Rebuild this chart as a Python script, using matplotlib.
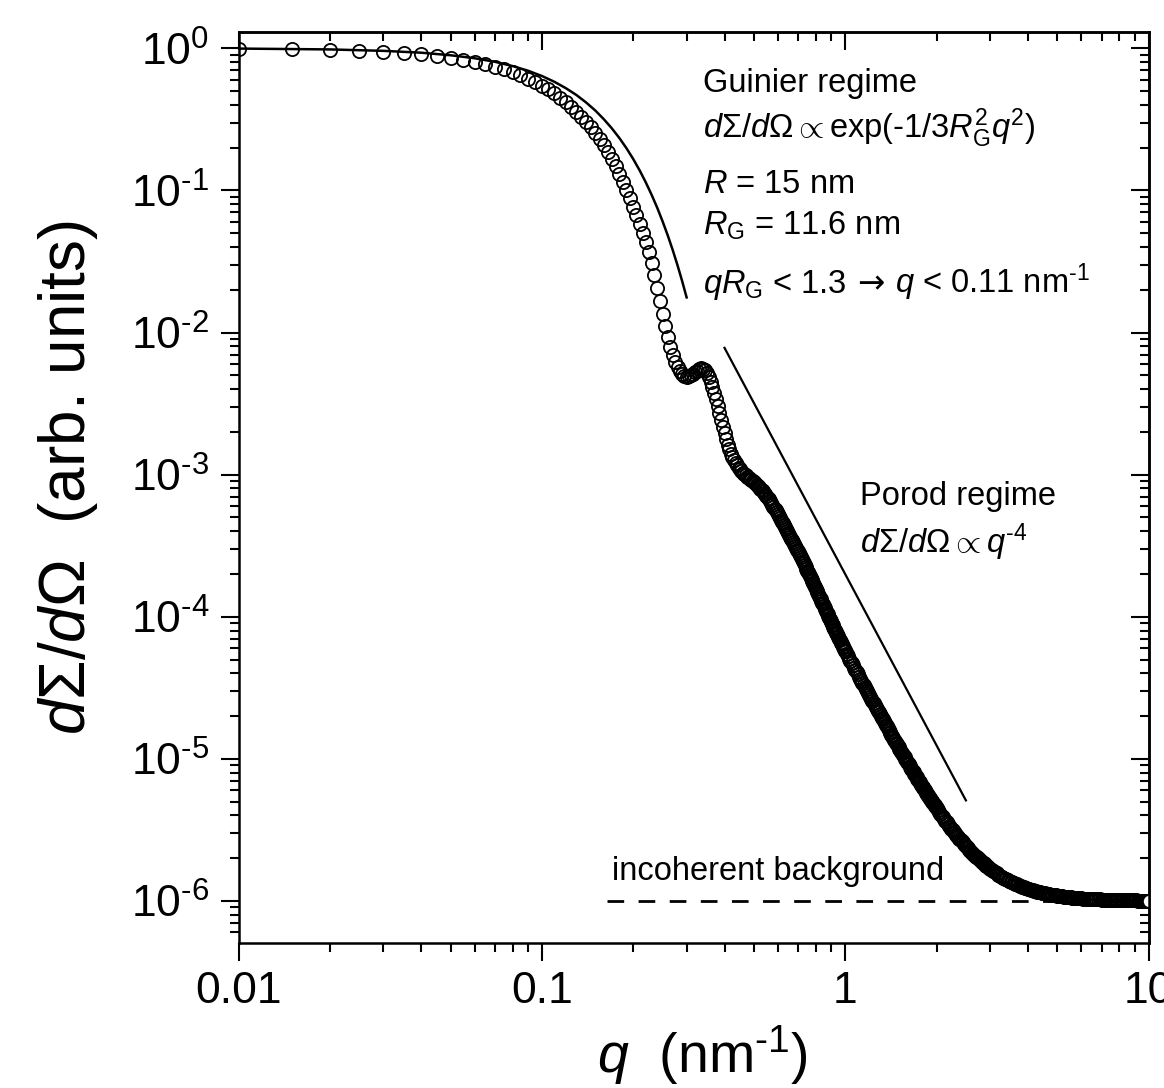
import numpy as np
import matplotlib
matplotlib.use("Agg")
import matplotlib.pyplot as plt
from matplotlib.ticker import LogLocator, NullFormatter

plt.rcParams['font.family'] = ['Liberation Sans', 'DejaVu Sans']
plt.rcParams['mathtext.fontset'] = 'custom'
plt.rcParams['mathtext.rm'] = 'Liberation Sans'
plt.rcParams['mathtext.it'] = 'Liberation Sans:italic'
plt.rcParams['mathtext.bf'] = 'Liberation Sans:bold'

HY = '\u2010'  # short hyphen used in the exponents

q_a = np.arange(2, 121) * 0.005      # 0.010 ... 0.600
q_b = np.arange(121, 201) * 0.005    # 0.605 ... 1.000
q_c = np.arange(101, 201) * 0.01     # 1.01 ... 2.00
q_d = np.arange(101, 151) * 0.02     # 2.02 ... 3.00
q_e = np.arange(76, 101) * 0.04      # 3.04 ... 4.00
q_f = np.arange(81, 121) * 0.05      # 4.05 ... 6.00
q_g = np.arange(61, 101) * 0.1       # 6.1 ... 10.0

log_a = [
    -0.003, -0.006, -0.011, -0.017, -0.024, -0.032, -0.042, -0.054, -0.066, -0.080,
    -0.095, -0.112, -0.130, -0.149, -0.170, -0.191, -0.215, -0.239, -0.265, -0.290,
    -0.318, -0.348, -0.380, -0.413, -0.447, -0.482, -0.519, -0.556, -0.596, -0.638,
    -0.682, -0.728, -0.777, -0.829, -0.884, -0.940, -0.996, -1.055, -1.115, -1.174,
    -1.235, -1.298, -1.364, -1.434, -1.510, -1.594, -1.684, -1.777, -1.868, -1.955,
    -2.033, -2.100, -2.157, -2.204, -2.243, -2.273, -2.294, -2.306, -2.310, -2.308,
    -2.302, -2.292, -2.280, -2.268, -2.258, -2.253, -2.255, -2.265, -2.285, -2.312,
    -2.345, -2.383, -2.425, -2.470, -2.518, -2.567, -2.616, -2.664, -2.710, -2.752,
    -2.790, -2.823, -2.852, -2.877, -2.899, -2.918, -2.935, -2.950, -2.963, -2.975,
    -2.986, -2.996, -3.005, -3.014, -3.022, -3.030, -3.038, -3.046, -3.054, -3.062,
    -3.071, -3.080, -3.089, -3.098, -3.108, -3.118, -3.128, -3.139, -3.150, -3.161,
    -3.173, -3.185, -3.198, -3.212, -3.226, -3.240, -3.252, -3.266, -3.280,
]
log_b = [
    -3.292, -3.305, -3.317, -3.330, -3.343, -3.356, -3.370, -3.383, -3.397, -3.410,
    -3.424, -3.437, -3.450, -3.463, -3.476, -3.489, -3.502, -3.515, -3.527, -3.540,
    -3.554, -3.568, -3.582, -3.595, -3.609, -3.622, -3.635, -3.648, -3.662, -3.675,
    -3.688, -3.701, -3.714, -3.726, -3.739, -3.752, -3.765, -3.778, -3.791, -3.803,
    -3.816, -3.828, -3.841, -3.853, -3.865, -3.877, -3.889, -3.901, -3.913, -3.925,
    -3.937, -3.948, -3.960, -3.972, -3.984, -3.995, -4.006, -4.017, -4.029, -4.040,
    -4.051, -4.061, -4.072, -4.083, -4.094, -4.104, -4.114, -4.124, -4.135, -4.145,
    -4.155, -4.165, -4.175, -4.185, -4.195, -4.205, -4.215, -4.224, -4.234, -4.244,
]
log_c = [
    -4.261, -4.278, -4.294, -4.311, -4.327, -4.343, -4.359, -4.375, -4.391, -4.406,
    -4.421, -4.437, -4.452, -4.466, -4.481, -4.496, -4.510, -4.524, -4.539, -4.553,
    -4.567, -4.580, -4.594, -4.607, -4.621, -4.634, -4.647, -4.660, -4.673, -4.686,
    -4.699, -4.711, -4.723, -4.736, -4.748, -4.760, -4.772, -4.784, -4.796, -4.808,
    -4.819, -4.830, -4.842, -4.853, -4.864, -4.875, -4.886, -4.897, -4.908, -4.919,
    -4.929, -4.940, -4.950, -4.960, -4.970, -4.980, -4.990, -5.000, -5.010, -5.020,
    -5.030, -5.039, -5.049, -5.058, -5.068, -5.077, -5.086, -5.095, -5.104, -5.113,
    -5.122, -5.131, -5.139, -5.148, -5.156, -5.165, -5.173, -5.182, -5.190, -5.198,
    -5.206, -5.214, -5.222, -5.230, -5.238, -5.245, -5.253, -5.261, -5.268, -5.276,
    -5.283, -5.291, -5.298, -5.305, -5.312, -5.319, -5.326, -5.333, -5.340, -5.347,
]
log_d = [
    -5.360, -5.373, -5.386, -5.399, -5.411, -5.423, -5.435, -5.447, -5.459, -5.470,
    -5.481, -5.492, -5.502, -5.513, -5.523, -5.533, -5.543, -5.552, -5.561, -5.571,
    -5.580, -5.588, -5.597, -5.606, -5.614, -5.622, -5.630, -5.638, -5.645, -5.653,
    -5.660, -5.667, -5.674, -5.681, -5.688, -5.694, -5.700, -5.707, -5.713, -5.719,
    -5.725, -5.730, -5.736, -5.741, -5.747, -5.752, -5.757, -5.762, -5.767, -5.772,
]
log_e = [
    -5.781, -5.790, -5.798, -5.806, -5.814, -5.822, -5.829, -5.835, -5.842, -5.848,
    -5.854, -5.860, -5.865, -5.870, -5.875, -5.880, -5.884, -5.889, -5.893, -5.897,
    -5.900, -5.904, -5.908, -5.911, -5.914,
]
log_f = [
    -5.918, -5.922, -5.925, -5.928, -5.931, -5.934, -5.937, -5.940, -5.942, -5.945,
    -5.947, -5.949, -5.951, -5.953, -5.955, -5.956, -5.958, -5.960, -5.961, -5.963,
    -5.964, -5.965, -5.967, -5.968, -5.969, -5.970, -5.971, -5.972, -5.973, -5.974,
    -5.975, -5.976, -5.977, -5.978, -5.978, -5.979, -5.980, -5.980, -5.981, -5.982,
]
log_g = [
    -5.983, -5.984, -5.985, -5.986, -5.987, -5.987, -5.988, -5.989, -5.989, -5.990,
    -5.991, -5.991, -5.992, -5.992, -5.992, -5.993, -5.993, -5.993, -5.994, -5.994,
    -5.994, -5.995, -5.995, -5.995, -5.995, -5.996, -5.996, -5.996, -5.996, -5.996,
    -5.996, -5.997, -5.997, -5.997, -5.997, -5.997, -5.997, -5.997, -5.998, -5.998,
]

# Guinier approximation curve (solid line, low q)
guinier_q = np.arange(1, 31) * 0.01  # 0.01 ... 0.30
guinier_log = [
    -0.002, -0.008, -0.018, -0.031, -0.049, -0.070, -0.095, -0.125, -0.158, -0.195,
    -0.236, -0.281, -0.329, -0.382, -0.438, -0.499, -0.563, -0.631, -0.703, -0.779,
    -0.859, -0.943, -1.031, -1.122, -1.218, -1.317, -1.420, -1.527, -1.638, -1.753,
]

# Porod q^-4 guide line and incoherent background level
porod_q = [0.4, 2.5]
porod_I = [7.8e-3, 5.1e-6]
bg_q = [0.164, 10.0]
bg_I = [1e-6, 1e-6]

x_ticks = [0.01, 0.1, 1, 10]
x_tick_labels = ['0.01', '0.1', '1', '10']
y_ticks = [1e-6, 1e-5, 1e-4, 1e-3, 1e-2, 1e-1, 1e0]
y_tick_labels = [r'$\mathregular{10^{%s}}$' % e for e in
                 (HY + '6', HY + '5', HY + '4', HY + '3', HY + '2', HY + '1', '0')]

q = np.concatenate([q_a, q_b, q_c, q_d, q_e, q_f, q_g])
I = 10 ** np.concatenate([log_a, log_b, log_c, log_d, log_e, log_f, log_g])

W, H = 1164, 1088
fig = plt.figure(figsize=(W / 100, H / 100), dpi=100)
ax = fig.add_axes([238.6 / W, (H - 943) / H, (1148.5 - 238.6) / W, (943 - 32) / H])


def px(x, y):
    return x / W, 1 - y / H


ax.plot(bg_q, bg_I, color='black', lw=2.0, ls=(0, (6, 5.2)), zorder=1)
ax.plot(q, I, 'o', ms=9.5, mfc='none', mec='black', mew=1.3, ls='none', zorder=2)
# last point sits on top with a white face, as in the original
ax.plot(q[-1:], I[-1:], 'o', ms=9.5, mfc='white', mec='black', mew=1.3, ls='none', zorder=2)
ax.plot(guinier_q, 10 ** np.array(guinier_log), color='black', lw=1.8, zorder=3)
ax.plot(porod_q, porod_I, color='black', lw=1.6, zorder=3)

ax.set_xscale('log')
ax.set_yscale('log')
ax.set_xlim(0.01, 10)
ax.set_ylim(5.06e-7, 1.302)

ax.set_xticks(x_ticks, labels=x_tick_labels)
ax.set_yticks(y_ticks, labels=y_tick_labels)
ax.xaxis.set_minor_locator(LogLocator(base=10, subs=np.arange(2, 10), numticks=20))
ax.yaxis.set_minor_locator(LogLocator(base=10, subs=np.arange(2, 10), numticks=20))
ax.xaxis.set_minor_formatter(NullFormatter())
ax.yaxis.set_minor_formatter(NullFormatter())

for s in ax.spines.values():
    s.set_linewidth(1.8)
ax.tick_params(which='major', direction='out', length=13, width=1.5, labelsize=32)
ax.tick_params(which='minor', direction='out', length=6.5, width=1.5)
ax.tick_params(axis='x', which='major', pad=7)
ax.tick_params(axis='y', which='major', pad=8)

# inward ticks on the top and right edges
top = ax.secondary_xaxis('top')
right = ax.secondary_yaxis('right')
top.xaxis.set_major_locator(LogLocator(base=10, numticks=20))
top.xaxis.set_minor_locator(LogLocator(base=10, subs=np.arange(2, 10), numticks=20))
right.yaxis.set_major_locator(LogLocator(base=10, numticks=20))
right.yaxis.set_minor_locator(LogLocator(base=10, subs=np.arange(2, 10), numticks=20))
for sec, axis in ((top, top.xaxis), (right, right.yaxis)):
    axis.set_major_formatter(NullFormatter())
    axis.set_minor_formatter(NullFormatter())
    sec.tick_params(which='major', direction='in', length=13, width=1.5)
    sec.tick_params(which='minor', direction='in', length=6.5, width=1.5)
    for s in sec.spines.values():
        s.set_linewidth(1.8)

# annotations
fs = 23.5
fig.text(*px(703, 92), 'Guinier regime', fontsize=fs, va='baseline')
fig.text(*px(703, 138),
         r'$d\Sigma/d\Omega \propto \mathrm{exp(%s1/3}R_{\mathrm{G}}^{2}q^{2}\mathrm{)}$' % HY,
         fontsize=fs, va='baseline')
fig.text(*px(703, 193), r'$R$ = 15 nm', fontsize=fs, va='baseline')
fig.text(*px(703, 235), r'$R_{\mathrm{G}}$ = 11.6 nm', fontsize=fs, va='baseline')

# "qR_G < 1.3 -> q < 0.11 nm^-1": the arrow comes from DejaVu Sans, pieces placed side by side
renderer = fig.canvas.get_renderer()
t_left = fig.text(*px(703, 293), r'$qR_{\mathrm{G}}$ < 1.3', fontsize=fs, va='baseline')
x_next = t_left.get_window_extent(renderer).x1 + 11
t_arrow = fig.text(x_next / W, 1 - 293 / H, '\u2192', family='DejaVu Sans', fontsize=fs,
                   va='baseline')
x_next = t_arrow.get_window_extent(renderer).x1 + 10
fig.text(x_next / W, 1 - 293 / H, r'$q$ < 0.11 nm$^{%s1}$' % HY, fontsize=fs, va='baseline')

fig.text(*px(860, 505), 'Porod regime', fontsize=fs, va='baseline')
fig.text(*px(860, 553), r'$d\Sigma/d\Omega \propto q^{%s4}$' % HY, fontsize=fs, va='baseline')
fig.text(*px(612, 880), 'incoherent background', fontsize=fs, va='baseline')

# axis titles
fig.text(*px(702, 1073), r'$q$  (nm$^{%s1}$)' % HY, fontsize=40, ha='center', va='baseline')
fig.text(*px(68, 478), r'$d\Sigma/d\Omega$  (arb. units)', fontsize=46, ha='center',
         va='center', rotation=90)

fig.savefig('out.png', dpi=100)
